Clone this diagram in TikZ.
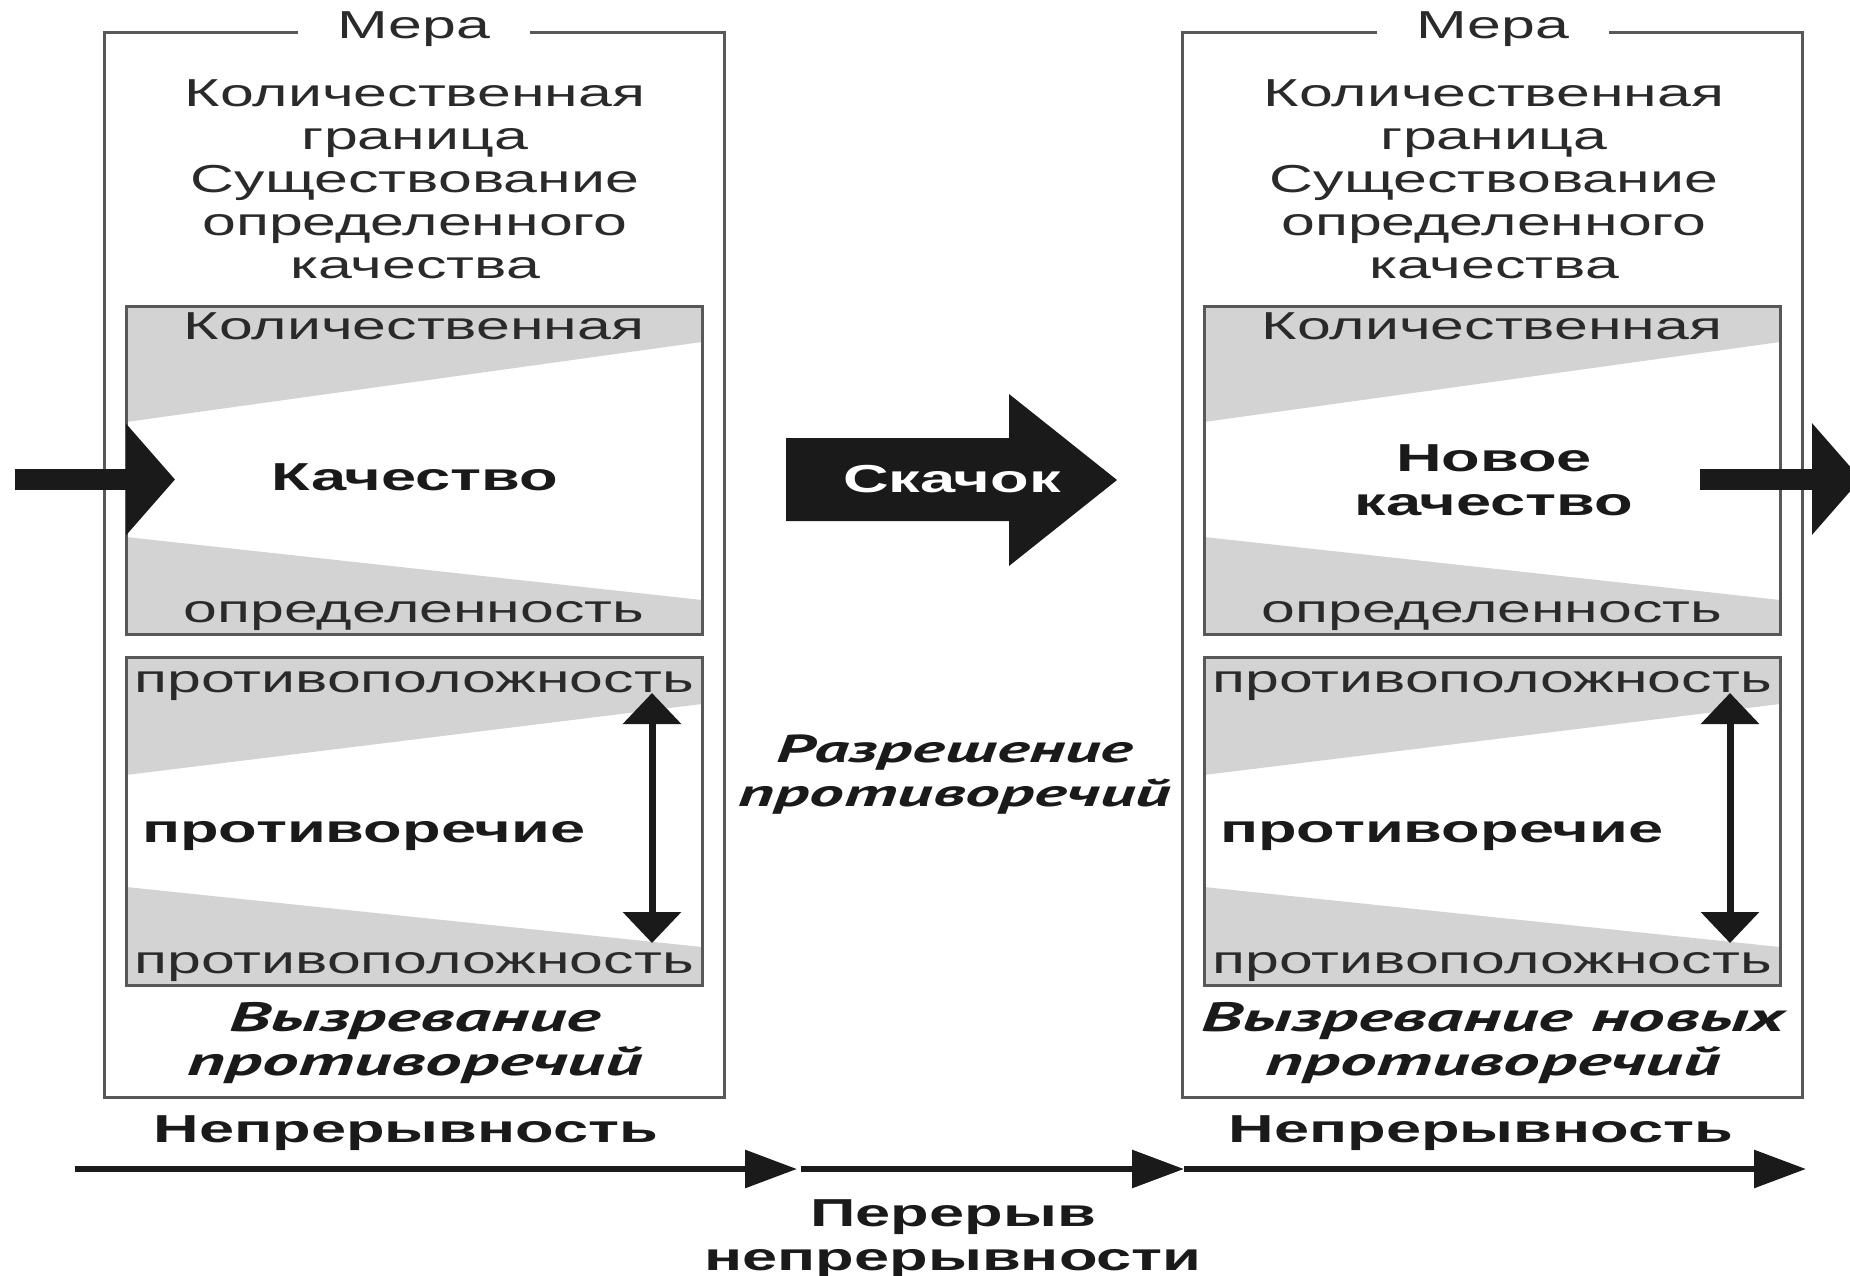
\documentclass[tikz,border=0pt]{standalone}
\usepackage{fontspec}
\setmainfont{Liberation Sans}[FakeStretch=1.56]
\newfontfamily\boldfam{Liberation Sans}[FakeStretch=1.62]
\newfontfamily\itfont{PT Sans}[FakeStretch=1.78]
\usetikzlibrary{arrows.meta}
\definecolor{fillgray}{HTML}{D3D3D3}
\definecolor{linegray}{HTML}{585858}
\definecolor{txtgray}{HTML}{2A2A2A}
\definecolor{ink}{HTML}{1A1A1A}
\tikzset{
  basetxt/.style={inner sep=0pt, align=center},
  plain/.style={basetxt, text=txtgray, font=\fontsize{39}{43}\selectfont},
  boldtxt/.style={basetxt, text=ink, font=\fontsize{39}{44}\selectfont\boldfam\bfseries},
  bitxt/.style={basetxt, text=ink, font=\fontsize{41}{44}\selectfont\itfont\bfseries\itshape},
  outerbox/.style={draw=linegray, line width=3pt, minimum width=620pt, minimum height=1064pt, inner sep=0pt},
  innerbox/.style={draw=linegray, line width=3pt, minimum width=576pt, minimum height=328pt, inner sep=0pt},
  shade/.style={fill=fillgray},
  fatarrow/.style={draw=ink, line width=21pt, -{Triangle[length=49pt,width=109pt]}},
  dblarrow/.style={draw=ink, line width=7pt, {Triangle[length=31pt,width=57pt]}-{Triangle[length=31pt,width=57pt]}},
  timearrow/.style={draw=ink, line width=6pt, -{Triangle[length=52pt,width=37pt]}},
  meralabel/.style={plain, fill=white, inner xsep=40pt, inner ysep=3pt, anchor=base},
}
\begin{document}
\begin{tikzpicture}[x=1pt,y=-1pt]
\useasboundingbox (0,0) rectangle (1850,1276);
\fill[white] (0,0) rectangle (1850,1276);

% ---------------- left column ----------------
\node[outerbox] (mL) at (414,565) {};
\fill[shade] (126,306) -- (702,306) -- (702,342) -- (126,422) -- cycle;
\fill[shade] (126,537) -- (702,600) -- (702,634) -- (126,634) -- cycle;
\fill[shade] (126,657) -- (702,657) -- (702,704) -- (126,775) -- cycle;
\fill[shade] (126,887) -- (702,947) -- (702,985) -- (126,985) -- cycle;
\node[innerbox] (qL) at (414,470) {};
\node[innerbox] (cL) at (414,821) {};
\node[meralabel] (meraL) at (414,39) {Мера};
\node[plain] (descL) at (415,179) {Количественная\\граница\\Существование\\определенного\\качества};
\node[plain, anchor=base] (qtopL) at (414,339) {Количественная};
\node[boldtxt, anchor=base] (qualL) at (415,490) {Качество};
\node[plain, anchor=base] (qbotL) at (414,622) {определенность};
\node[plain, anchor=base] (ctopL) at (414,692) {противоположность};
\node[boldtxt, anchor=base west] (contrL) at (142,842) {противоречие};
\node[plain, anchor=base] (cbotL) at (414,973) {противоположность};
\node[bitxt] (ripeL) at (415,1043) {Вызревание\\противоречий};
\coordinate (dTopL) at (652,693);
\coordinate (dBotL) at (652,943);
\draw[dblarrow] (dTopL) -- (dBotL);

% ---------------- right column ----------------
\begin{scope}[shift={(1078,0)}]
\node[outerbox] (mR) at (414,565) {};
\fill[shade] (126,306) -- (702,306) -- (702,342) -- (126,422) -- cycle;
\fill[shade] (126,537) -- (702,600) -- (702,634) -- (126,634) -- cycle;
\fill[shade] (126,657) -- (702,657) -- (702,704) -- (126,775) -- cycle;
\fill[shade] (126,887) -- (702,947) -- (702,985) -- (126,985) -- cycle;
\node[innerbox] (qR) at (414,470) {};
\node[innerbox] (cR) at (414,821) {};
\node[meralabel] (meraR) at (415,39) {Мера};
\node[plain] (descR) at (416,179) {Количественная\\граница\\Существование\\определенного\\качества};
\node[plain, anchor=base] (qtopR) at (414,339) {Количественная};
\node[boldtxt] (qualR) at (416,480) {Новое\\качество};
\node[plain, anchor=base] (qbotR) at (414,622) {определенность};
\node[plain, anchor=base] (ctopR) at (414,692) {противоположность};
\node[boldtxt, anchor=base west] (contrR) at (142,842) {противоречие};
\node[plain, anchor=base] (cbotR) at (414,973) {противоположность};
\node[bitxt] (ripeR) at (415,1043) {Вызревание новых\\противоречий};
\coordinate (dTopR) at (652,693);
\coordinate (dBotR) at (652,943);
\draw[dblarrow] (dTopR) -- (dBotR);
\end{scope}

% ---------------- input / output arrows ----------------
\coordinate (inStart) at (15,479.5);
\coordinate (inTip) at (175,479.5);
\draw[fatarrow] (inStart) -- (inTip);
\coordinate (outStart) at (1700,479);
\coordinate (outTip) at (1861,479);
\draw[fatarrow] (outStart) -- (outTip);

% ---------------- jump arrow ----------------
\fill[ink] (786,438) -- (1009,438) -- (1009,394) -- (1117,480) -- (1009,566) -- (1009,521) -- (786,521) -- cycle;
\node[boldtxt, text=white, anchor=base] (jump) at (952,492) {Скачок};
\node[bitxt, font=\fontsize{39}{44}\selectfont\itfont\bfseries\itshape] (resolve) at (955,775) {Разрешение\\противоречий};

% ---------------- time line ----------------
\node[boldtxt, anchor=base] (contL) at (406,1142) {Непрерывность};
\node[boldtxt, anchor=base] (contR) at (1481,1142) {Непрерывность};
\node[boldtxt] (gap) at (953,1239) {Перерыв\\непрерывности};
\coordinate (t0) at (75,1169);
\coordinate (t1) at (797,1169);
\coordinate (t1b) at (801,1169);
\coordinate (t2) at (1184,1169);
\coordinate (t3) at (1806,1169);
\draw[timearrow] (t0) -- (t1);
\draw[timearrow] (t1b) -- (t2);
\draw[timearrow] (t2) -- (t3);
\end{tikzpicture}
\end{document}
